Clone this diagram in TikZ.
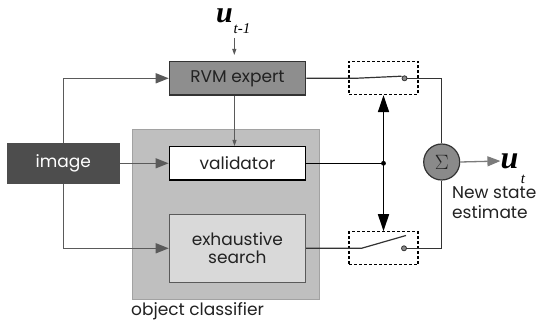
\documentclass[tikz,border=0pt]{standalone}
\usepackage{fontspec}
\setmainfont{Poppins}
\newfontfamily\symserif{Liberation Serif}
\usetikzlibrary{arrows.meta}

\definecolor{imgfill}{HTML}{4D4D4D}
\definecolor{rvmfill}{HTML}{8E8E8E}
\definecolor{exhfill}{HTML}{D9D9D9}
\definecolor{clsfill}{HTML}{BFBFBF}
\definecolor{sigfill}{HTML}{8A8A8A}
\definecolor{flowgray}{HTML}{5A5A5A}
\definecolor{darkline}{HTML}{333333}
\definecolor{inkgray}{HTML}{222222}

\tikzset{
  labelfont/.style={font=\fontsize{17}{20}\selectfont, text=inkgray},
  block/.style={draw=darkline, line width=1.2pt, labelfont, align=center, inner sep=0pt},
  flow/.style={draw=flowgray, line width=1.3pt, -{Triangle[length=13pt, width=10pt]}},
  thinflow/.style={draw=flowgray, line width=0.9pt, -{Triangle[length=6pt, width=4pt]}},
  wire/.style={draw=darkline, line width=1.2pt},
  ctrl/.style={draw=black, line width=1.7pt, -{Triangle[length=17pt, width=11pt]}},
  switchbox/.style={draw=black, line width=1.3pt, dash pattern=on 3pt off 2pt, minimum width=69pt, minimum height=33pt, inner sep=0pt},
  contact/.style={circle, draw=darkline, fill=sigfill, line width=0.8pt, minimum size=5pt, inner sep=0pt},
  vecsym/.style={font=\symserif\bfseries\itshape\fontsize{30}{30}\selectfont, inner sep=0pt, text height=14pt, text depth=0pt},
  subsym/.style={font=\symserif\itshape\fontsize{15}{15}\selectfont, inner sep=0pt},
}

\begin{document}
\begin{tikzpicture}[x=1pt, y=-1pt]
\useasboundingbox (0,0) rectangle (548,326);
\fill[white] (0,0) rectangle (548,326);

% object classifier background
\node[fill=clsfill, draw=clsfill!85!black, line width=0.5pt, minimum width=187.5pt, minimum height=170pt, inner sep=0pt] (cls) at (225.75,214.3) {};
\node[labelfont, anchor=west, inner sep=0pt] (clslabel) at (131,311) {object classifier};

% blocks
\node[block, fill=imgfill, draw=imgfill, text=white, minimum width=111.7pt, minimum height=40pt] (img) at (63.2,163.3) {image};
\node[block, fill=rvmfill, minimum width=136.4pt, minimum height=33.3pt] (rvm) at (237.5,78.3) {RVM expert};
\node[block, fill=white, draw=black, line width=1.4pt, minimum width=136.4pt, minimum height=33.3pt] (val) at (237.5,163.3) {validator};
\node[block, fill=exhfill, draw=flowgray, minimum width=136.2pt, minimum height=68pt] (exh) at (237.4,248.3) {exhaustive\\[-2pt]search};

% previous state input
\node[vecsym] (uprev) at (224.5,15.5) {u};
\node[subsym] (uprevsub) at (242,28.5) {t-1};
\coordinate (uprevend) at (234.3,55);
\draw[thinflow] (234.3,38) -- (uprevend);

% image feeds
\draw[flow] (img.north) |- (rvm.west);
\draw[flow] (img.east) -- (val.west);
\draw[flow] (img.south) |- (exh.west);
\draw[thinflow] ([xshift=-3pt]rvm.south) -- ([xshift=-3pt]val.north);

% switches
\node[switchbox] (swtop) at (383.5,78) {};
\node[switchbox] (swbot) at (383.5,248.3) {};
\node[contact] (ctop) at (404.5,78.3) {};
\node[contact] (cbot) at (404,248.3) {};
\coordinate (armtop) at (355,78.3);
\coordinate (armbot) at (361.5,248.3);

\draw[wire] (rvm.east |- armtop) -- (armtop) -- (401.5,76.2);
\draw[wire] (exh.east |- armbot) -- (armbot) -- (406,235.5);

% summation
\node[circle, draw=darkline, fill=sigfill, line width=1.2pt, minimum size=36pt, inner sep=0pt, font=\symserif\fontsize{21}{21}\selectfont, text=inkgray] (sum) at (441.7,162) {$\Sigma$};
\draw[wire] (ctop.east) -| (sum.north);
\draw[wire] (cbot.east) -| (sum.south);

% validator control line
\coordinate (junc) at (383.5,163.3);
\draw[black, line width=1.5pt] (val.east) -- (junc);
\fill[black] (junc) circle (2.4pt);
\draw[ctrl] (junc) -- (swtop.south);
\draw[ctrl] (junc) -- (swbot.north);

% output
\node[vecsym, font=\symserif\bfseries\itshape\fontsize{32}{32}\selectfont] (unew) at (509.5,161) {u};
\node[subsym] (unewsub) at (523,179) {t};
\draw[flow, draw=flowgray!80] (sum.east) -- (unew.west);
\node[labelfont, anchor=west, align=left, inner sep=0pt] (statelbl) at (452,203) {New state\\estimate};
\end{tikzpicture}
\end{document}
